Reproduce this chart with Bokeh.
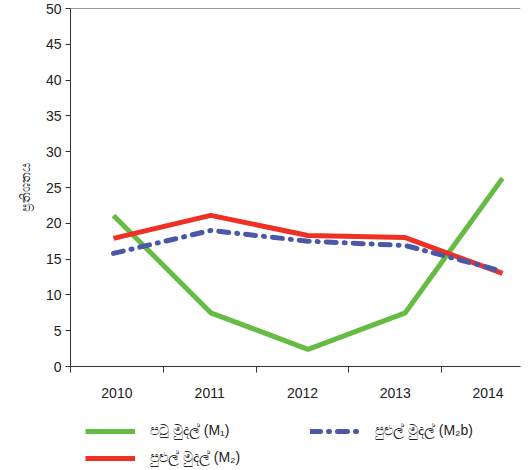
from bokeh.plotting import figure
from bokeh.layouts import column
from bokeh.models import Range1d, LinearAxis, FixedTicker, Legend, LegendItem, Span
from bokeh.embed import file_html
from bokeh.resources import INLINE

years = ["2010", "2011", "2012", "2013", "2014"]
m1 = [21.1, 7.5, 2.4, 7.5, 26.3]
m2 = [17.9, 21.1, 18.3, 18.0, 13.0]
m2b = [15.8, 19.0, 17.5, 16.9, 13.3]
y_ticks = [0, 5, 10, 15, 20, 25, 30, 35, 40, 45, 50]
y_title = "ප්‍රතිශතය"
names = ["පටු මුදල් (M₁)", "පුළුල් මුදල් (M₂)", "පුළුල් මුදල් (M₂b)"]

xs = list(range(len(years)))
FONT = "Liberation Sans"
C1, C2, C3 = "#66bb44", "#ee3124", "#4b58a6"
DASH = "10 8 1 8"

p = figure(width=522, height=400, output_backend="svg", toolbar_location=None,
           x_range=Range1d(-0.442, 4.185), y_range=Range1d(0, 50),
           x_axis_location=None, min_border_left=70, min_border_right=2,
           min_border_top=8, min_border_bottom=0)
p.extra_x_ranges = {"xa": Range1d(-0.5, 4.35)}
p.outline_line_color = None
p.xgrid.visible = False
p.ygrid.visible = False

ya = p.yaxis[0]
ya.ticker = FixedTicker(ticks=y_ticks)
ya.major_tick_out = 5
ya.major_tick_in = 0
ya.minor_tick_out = 0
ya.minor_tick_in = 0
ya.axis_line_color = "#333333"
ya.major_tick_line_color = "#333333"
ya.major_label_text_font = FONT
ya.major_label_text_font_size = "14px"
ya.major_label_text_color = "#222222"
ya.major_label_standoff = 4
ya.axis_label = y_title
ya.axis_label_text_font = FONT
ya.axis_label_text_font_size = "13px"
ya.axis_label_text_font_style = "normal"
ya.axis_label_text_color = "#222222"
ya.axis_label_standoff = 10

xa = LinearAxis(x_range_name="xa",
                ticker=FixedTicker(ticks=xs, minor_ticks=[i - 0.5 for i in xs]))
xa.major_label_overrides = {i: y for i, y in zip(xs, years)}
xa.major_tick_out = 0
xa.major_tick_in = 0
xa.minor_tick_out = 6
xa.minor_tick_in = 0
xa.axis_line_color = "#333333"
xa.minor_tick_line_color = "#333333"
xa.major_label_text_font = FONT
xa.major_label_text_font_size = "14px"
xa.major_label_text_color = "#222222"
xa.major_label_standoff = 15
p.add_layout(xa, "below")

p.add_layout(Span(location=50, dimension="width", line_color="#333333", line_width=1))

p.line(xs, m1, line_color=C1, line_width=5)
p.line(xs, m2, line_color=C2, line_width=5)
p.line(xs, m2b, line_color=C3, line_width=5, line_dash=DASH, line_cap="round")

# legend strip below the chart (same series, drawn out of view so only the key shows)
q = figure(width=522, height=68, output_backend="svg", toolbar_location=None,
           x_range=Range1d(100, 101), y_range=Range1d(100, 101),
           x_axis_location=None, y_axis_location=None,
           min_border_left=70, min_border_right=2, min_border_top=6,
           min_border_bottom=0)
q.outline_line_color = None
q.xgrid.visible = False
q.ygrid.visible = False
q1 = q.line(xs, m1, line_color=C1, line_width=5)
q2 = q.line(xs, m2, line_color=C2, line_width=5)
q3 = q.line(xs, m2b, line_color=C3, line_width=5, line_dash=DASH, line_cap="round")

legend = Legend(items=[LegendItem(label=names[0], renderers=[q1]),
                       LegendItem(label=names[2], renderers=[q3]),
                       LegendItem(label=names[1], renderers=[q2])],
                ncols=2, location=(15, 2), orientation="horizontal",
                glyph_width=50, glyph_height=14, label_height=14,
                label_width=150, label_standoff=15, spacing=10,
                padding=0, margin=0, border_line_color=None,
                background_fill_alpha=0,
                label_text_font=FONT, label_text_font_size="14px",
                label_text_color="#222222")
q.add_layout(legend)

open("out.html", "w").write(file_html(column(p, q, spacing=0), INLINE))
